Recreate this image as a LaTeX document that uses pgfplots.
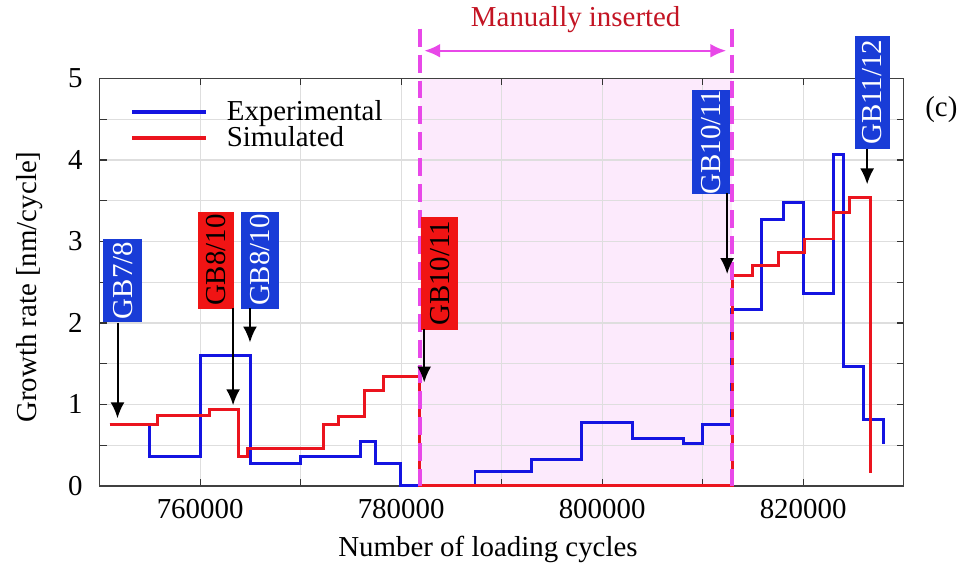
\documentclass[border=0pt]{standalone}
\usepackage{fontspec}
\setmainfont{Liberation Serif}
\usepackage{pgfplots}
\pgfplotsset{compat=1.18}
\usetikzlibrary{arrows.meta}

\definecolor{expblue}{RGB}{20,20,225}
\definecolor{simred}{RGB}{235,20,30}
\definecolor{gridc}{RGB}{222,222,222}
\definecolor{shadec}{RGB}{252,234,252}
\definecolor{magc}{RGB}{232,72,232}
\definecolor{darkred}{RGB}{195,20,35}
\definecolor{boxblue}{RGB}{25,60,215}
\definecolor{boxred}{RGB}{240,20,20}

\newcommand\fs{\fontsize{14.5}{17}\selectfont}

\begin{document}
\begin{tikzpicture}[
  gbb/.style={rotate=90, fill=boxblue, text=white, inner sep=0pt, font=\fs, anchor=center},
  gbr/.style={rotate=90, fill=boxred, text=black, inner sep=0pt, font=\fs, anchor=center},
  arr/.style={-{Latex[length=8pt,width=7pt]}, line width=1pt, black}
]
\begin{axis}[
  set layers,
  scale only axis,
  width=403.5pt, height=204.5pt,
  xmin=750000, xmax=830000, ymin=0, ymax=5,
  clip=false,
  xtick={760000,780000,800000,820000},
  minor xtick={750000,770000,790000,810000,830000},
  ytick={0,1,2,3,4,5},
  minor ytick={0.5,1.5,2.5,3.5,4.5},
  grid=both,
  major grid style={draw=gridc, line width=0.6pt},
  minor grid style={draw=gridc, line width=0.6pt},
  tick align=inside,
  major tick length=3.5pt, minor tick length=3.5pt,
  tick style={black!80, line width=0.6pt},
  axis line style={line width=0.8pt, draw=black!75},
  scaled x ticks=false,
  /pgf/number format/fixed,
  /pgf/number format/1000 sep={},
  /pgf/number format/assume math mode=true,
  tick label style={font=\fs},
  xticklabel style={yshift=-3pt},
  yticklabel style={xshift=-5pt},
  label style={font=\fs},
  xlabel={Number of loading cycles},
  ylabel={Growth rate [nm/cycle]},
  xlabel style={at={(axis description cs:0.483,-0.156)}, anchor=center},
  ylabel style={at={(axis description cs:-0.0867,0.488)}, anchor=center},
  legend style={draw=none, fill=none, font=\fs, at={(axis description cs:0.030,0.96)},
    anchor=north west, row sep=0pt, nodes={inner sep=0.8pt}},
  legend cell align=left,
  legend image code/.code={\draw[#1, line width=2pt] (0pt,0pt) -- (37pt,0pt);
    \path (46pt,0pt);},
]
% manually inserted region
\addplot[fill=shadec, draw=none, forget plot, on layer=axis background]
  coordinates {(781870,0) (812930,0) (812930,5) (781870,5)} -- cycle;

% experimental
\addplot[const plot, expblue, line width=1.5pt] coordinates {
(751000,0.75) (755000,0.36) (760000,1.60) (765000,0.28) (770000,0.36)
(775940,0.55) (777420,0.27) (779900,0.0) (787350,0.18) (792950,0.32)
(797900,0.78) (803000,0.58) (808080,0.52) (810030,0.75) (812900,2.17)
(815900,3.27) (818050,3.48) (820030,2.36) (822990,4.07) (823990,1.46)
(825980,0.81) (827960,0.52)
};
\addlegendentry{Experimental}

% simulated
\addplot[const plot, simred, line width=1.5pt] coordinates {
(751000,0.75) (755800,0.87) (760900,0.94) (763800,0.36) (764700,0.46)
(772300,0.75) (773800,0.85) (776400,1.17) (778250,1.34) (781870,0.0)
(812930,2.58) (814920,2.70) (817560,2.87) (820100,3.03) (822990,3.36)
(824650,3.54) (826700,0.155)
};
\addlegendentry{Simulated}

% dashed borders of inserted region
\addplot[magc, line width=2pt, dash pattern=on 9pt off 4pt, forget plot]
  coordinates {(781870,5.61) (781870,0)};
\addplot[magc, line width=2pt, dash pattern=on 9pt off 4pt, forget plot]
  coordinates {(812930,5.61) (812930,0)};

\draw[{Latex[length=8pt,width=7pt]}-{Latex[length=8pt,width=7pt]}, magc, line width=1.2pt]
  (axis cs:782300,5.34) -- (axis cs:812350,5.34);
\node[text=darkred, font=\fs] at (axis cs:797370,5.72) {Manually inserted};
\node[font=\fs] at (axis cs:833750,4.62) {(c)};

% grain boundary labels
\node[gbb, minimum width=42pt, minimum height=20pt] at (axis cs:752280,2.52) {GB7/8};
\draw[arr] (axis cs:751780,2.00) -- (axis cs:751780,0.83);

\node[gbr, minimum width=48.5pt, minimum height=18pt] at (axis cs:761600,2.77) {GB8/10};
\draw[arr] (axis cs:763280,2.18) -- (axis cs:763280,0.99);

\node[gbb, minimum width=48.5pt, minimum height=19pt] at (axis cs:765960,2.77) {GB8/10};
\draw[arr] (axis cs:764960,2.18) -- (axis cs:764960,1.76);

\node[gbr, minimum width=56.5pt, minimum height=18.5pt] at (axis cs:783850,2.61) {GB10/11};
\draw[arr] (axis cs:782300,1.92) -- (axis cs:782300,1.27);

\node[gbb, minimum width=52.5pt, minimum height=19pt] at (axis cs:810850,4.22) {GB10/11};
\draw[arr] (axis cs:812440,3.59) -- (axis cs:812440,2.60);

\node[gbb, minimum width=56.5pt, minimum height=18pt] at (axis cs:826900,4.83) {GB11/12};
\draw[arr] (axis cs:826370,4.14) -- (axis cs:826370,3.70);

% page extent
\path (rel axis cs:-0.1239,-0.220) rectangle (rel axis cs:1.0706,1.176);
\end{axis}
\end{tikzpicture}
\end{document}
